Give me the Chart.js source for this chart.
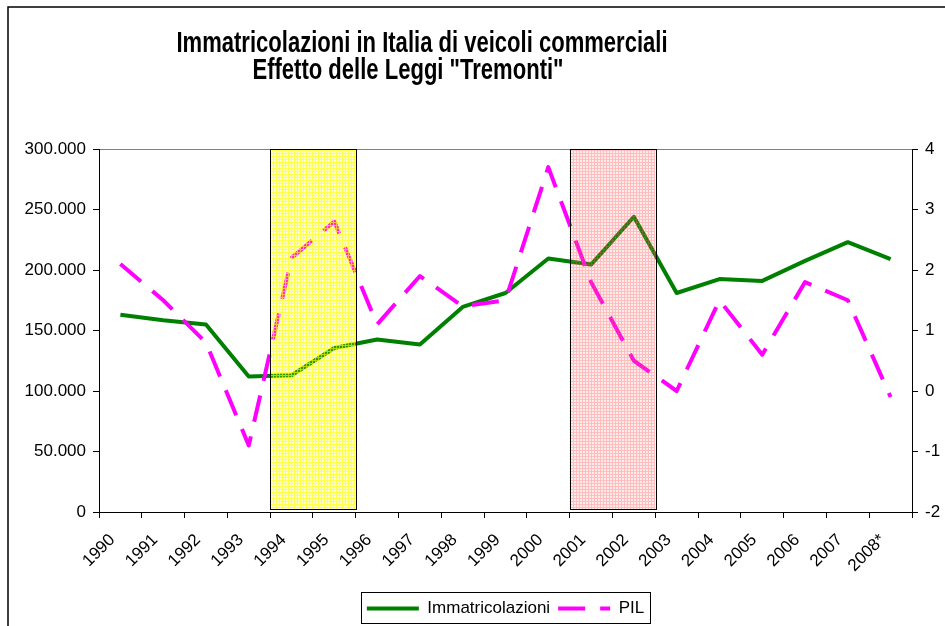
<!DOCTYPE html>
<html lang="it">
<head>
<meta charset="utf-8">
<title>Immatricolazioni in Italia di veicoli commerciali</title>
<script src="https://cdn.jsdelivr.net/npm/chart.js@4.4.1/dist/chart.umd.min.js"></script>
<style>
  html, body { margin: 0; padding: 0; background: #fff; }
  canvas { display: block; }
</style>
</head>
<body>
<canvas id="chart" width="945" height="626"></canvas>
<script>
// ============================================================
// Data
// ============================================================
const years = ['1990', '1991', '1992', '1993', '1994', '1995', '1996', '1997', '1998', '1999',
               '2000', '2001', '2002', '2003', '2004', '2005', '2006', '2007', '2008*'];
const immatricolazioni = [163000, 158500, 155000, 112000, 113000, 135500, 142500, 138500, 169500, 181000,
                          209500, 204500, 244000, 181000, 192500, 191000, 207500, 223000, 209000];
const pil = [2.1, 1.5, 0.8, -0.9, 2.2, 2.8, 1.1, 1.9, 1.4, 1.5,
             3.7, 1.8, 0.5, 0.0, 1.5, 0.6, 1.8, 1.5, -0.1];
const leftTicks = [0, 50000, 100000, 150000, 200000, 250000, 300000];
const rightTicks = [-2, -1, 0, 1, 2, 3, 4];
const titleLines = ['Immatricolazioni in Italia di veicoli commerciali', 'Effetto delle Leggi "Tremonti"'];

// Leggi Tremonti: first and last year of each shaded period
const tremontiFrom = ['1994', '2001'];
const tremontiTo = ['1995', '2002'];

const FONT = '"Liberation Sans", Arial, sans-serif';

function fmtThousands(v) {
  return String(v).replace(/\B(?=(\d{3})+(?!\d))/g, '.');
}

// pattern fill like the old Excel "grid" pattern
function makePattern(ctx, rgb, lineAlpha, cellAlpha) {
  const c = document.createElement('canvas');
  c.width = 3; c.height = 3;
  const p = c.getContext('2d');
  p.fillStyle = `rgba(${rgb},${cellAlpha})`;
  p.fillRect(1, 1, 2, 2);
  p.fillStyle = `rgba(${rgb},${lineAlpha})`;
  p.fillRect(0, 0, 3, 1);
  p.fillRect(0, 1, 1, 2);
  return ctx.createPattern(c, 'repeat');
}

// ============================================================
// Plugins: shaded periods, title, legend frame, outer frame
// ============================================================
const tremontiBands = {
  id: 'tremontiBands',
  afterDatasetsDraw(chart) {
    const {ctx, scales: {x, y}} = chart;
    const half = (x.getPixelForValue(1) - x.getPixelForValue(0)) / 2;
    const patterns = [
      makePattern(ctx, '255,255,0', 0.7, 0.2),
      makePattern(ctx, '255,90,90', 0.4, 0.12)
    ];
    tremontiFrom.forEach((from, i) => {
      const left = x.getPixelForValue(years.indexOf(from)) - half;
      const right = x.getPixelForValue(years.indexOf(tremontiTo[i])) + half;
      const top = y.getPixelForValue(leftTicks[leftTicks.length - 1]);
      const bottom = y.getPixelForValue(leftTicks[0]) - 3;
      ctx.save();
      ctx.fillStyle = patterns[i];
      ctx.fillRect(left, top, right - left, bottom - top);
      ctx.strokeStyle = '#000';
      ctx.lineWidth = 1;
      ctx.strokeRect(Math.round(left) + 0.5, Math.round(top) + 0.5, Math.round(right - left), Math.round(bottom - top));
      ctx.restore();
    });
  }
};

const chartTitle = {
  id: 'chartTitle',
  afterDraw(chart) {
    const {ctx} = chart;
    ctx.save();
    ctx.fillStyle = '#000';
    ctx.textAlign = 'center';
    ctx.textBaseline = 'alphabetic';
    ctx.font = 'bold 29px ' + FONT;
    const sx = 0.76;
    ctx.scale(sx, 1);
    ctx.fillText(titleLines[0], 422 / sx, 52);
    ctx.fillText(titleLines[1], 408 / sx, 79);
    ctx.restore();

    // outer chart frame (right/bottom edges fall outside the picture)
    ctx.save();
    ctx.strokeStyle = '#000';
    ctx.lineWidth = 1.5;
    ctx.strokeRect(8, 7, 2000, 2000);
    ctx.restore();
  }
};

const legendFrame = {
  id: 'legendFrame',
  afterDraw(chart) {
    const boxes = chart.legend && chart.legend.legendHitBoxes;
    if (!boxes || !boxes.length) return;
    const left = Math.min(...boxes.map(b => b.left)) - 6;
    const right = Math.max(...boxes.map(b => b.left + b.width)) + 6;
    const top = boxes[0].top - 8;
    const {ctx} = chart;
    ctx.save();
    ctx.strokeStyle = '#000';
    ctx.lineWidth = 1;
    ctx.strokeRect(Math.round(left) + 0.5, Math.round(top) + 0.5, Math.round(right - left), 31);
    ctx.restore();
  }
};

// ============================================================
// Chart
// ============================================================
new Chart(document.getElementById('chart'), {
  type: 'line',
  data: {
    labels: years,
    datasets: [{
      label: 'Immatricolazioni',
      data: immatricolazioni,
      yAxisID: 'y',
      borderColor: '#008000',
      backgroundColor: '#008000',
      borderWidth: 4,
      borderJoinStyle: 'round',
      pointRadius: 0,
      tension: 0,
      order: 1
    }, {
      label: 'PIL',
      data: pil,
      yAxisID: 'y1',
      borderColor: '#ff00ff',
      backgroundColor: '#ff00ff',
      borderWidth: 4,
      borderDash: [27, 15],
      borderJoinStyle: 'round',
      pointRadius: 0,
      tension: 0,
      order: 0
    }]
  },
  options: {
    responsive: false,
    animation: false,
    layout: { padding: { top: 149, left: 0, right: 0, bottom: -1 } },
    plugins: {
      title: { display: false },
      tooltip: { enabled: false },
      legend: {
        position: 'bottom',
        fullSize: false,
        labels: {
          usePointStyle: true,
          pointStyle: 'line',
          pointStyleWidth: 52,
          boxWidth: 52,
          padding: 8,
          color: '#000',
          font: { family: FONT, size: 17 },
          sort: (a, b) => a.datasetIndex - b.datasetIndex,
          generateLabels: chart => Chart.defaults.plugins.legend.labels.generateLabels(chart).map(item => {
            const ds = chart.data.datasets[item.datasetIndex];
            item.lineDash = ds.borderDash || [];
            item.lineWidth = ds.borderWidth;
            item.strokeStyle = ds.borderColor;
            return item;
          })
        }
      }
    },
    scales: {
      x: {
        type: 'category',
        offset: true,
        grid: { offset: true, drawOnChartArea: false, color: '#000', tickLength: 6 },
        border: { color: '#000', width: 1 },
        ticks: {
          autoSkip: false,
          minRotation: 45,
          maxRotation: 45,
          labelOffset: -8,
          padding: 12,
          color: '#000',
          font: { family: FONT, size: 17 }
        },
        afterFit: s => { s.height = 80; }
      },
      y: {
        position: 'left',
        min: leftTicks[0],
        max: leftTicks[leftTicks.length - 1],
        afterBuildTicks: s => { s.ticks = leftTicks.map(v => ({ value: v })); },
        grid: {
          color: c => c.tick && c.tick.value === leftTicks[leftTicks.length - 1] ? '#808080' : 'rgba(0,0,0,0)',
          tickColor: '#000',
          tickLength: 6
        },
        border: { color: '#000', width: 1 },
        ticks: {
          padding: 7,
          color: '#000',
          font: { family: FONT, size: 17 },
          callback: v => fmtThousands(v)
        },
        afterFit: s => { s.width = 99; }
      },
      y1: {
        position: 'right',
        min: rightTicks[0],
        max: rightTicks[rightTicks.length - 1],
        afterBuildTicks: s => { s.ticks = rightTicks.map(v => ({ value: v })); },
        grid: { drawOnChartArea: false, color: '#000', tickLength: 6 },
        border: { color: '#000', width: 1 },
        ticks: {
          padding: 7,
          color: '#000',
          font: { family: FONT, size: 17 }
        },
        afterFit: s => { s.width = 33; }
      }
    }
  },
  plugins: [tremontiBands, chartTitle, legendFrame]
});
</script>
</body>
</html>
